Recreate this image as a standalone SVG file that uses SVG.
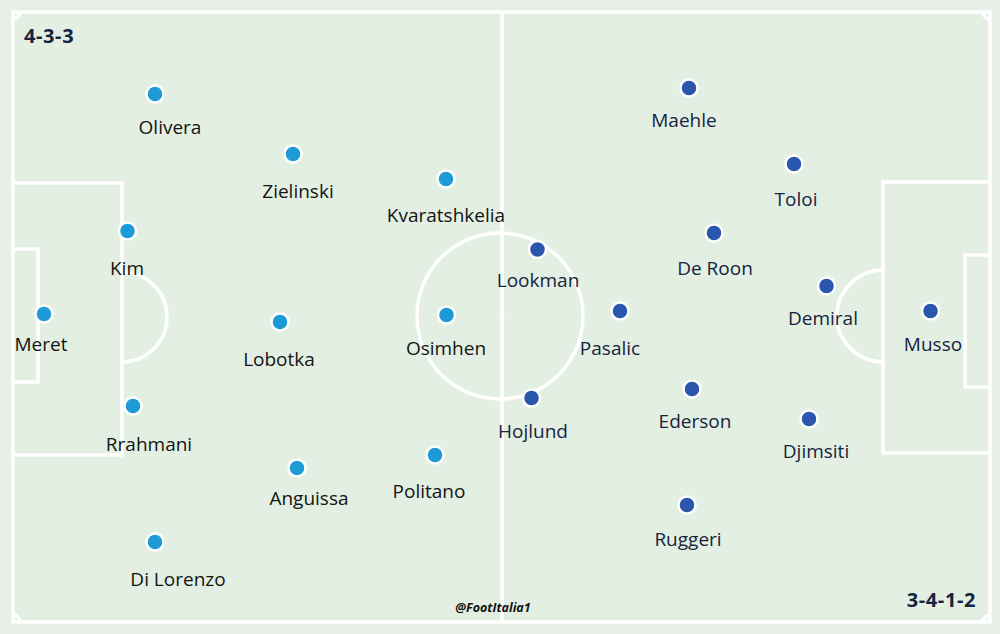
<svg xmlns="http://www.w3.org/2000/svg" width="1000" height="634" viewBox="0 0 1000 634">
<style>
.line{fill:none;stroke:#ffffff;stroke-width:3.5}
.nap circle{fill:#1d9bd7;stroke:#ffffff;stroke-width:2.5}
.ata circle{fill:#2a56ad;stroke:#ffffff;stroke-width:2.5}
.nap text{font-family:"Open Sans","Liberation Sans",sans-serif;font-size:19px;fill:#141414;text-anchor:middle}
.ata text{font-family:"Open Sans","Liberation Sans",sans-serif;font-size:19px;fill:#17233f;text-anchor:middle}
.form{font-family:"Open Sans","Liberation Sans",sans-serif;font-size:20px;font-weight:bold;fill:#17233f;letter-spacing:0.6px}
</style>
<rect x="0" y="0" width="1000" height="634" fill="#e7efe8"/>
<rect x="13" y="12" width="977" height="610" fill="#e2efe2"/>
<g id="pitch">
<rect class="line" x="13" y="12" width="977" height="610"/>
<line class="line" x1="502" y1="12" x2="502" y2="622" stroke-width="4"/>
<circle class="line" cx="500" cy="316" r="83"/>
<circle cx="502" cy="316" r="2.5" fill="#ffffff"/>
<polyline class="line" points="13,183 122,183 122,455 13,455"/>
<polyline class="line" points="13,249 38,249 38,382 13,382"/>
<path class="line" d="M122,272 A45,45 0 0 1 122,362"/>
<polyline class="line" points="990,182 883,182 883,453 990,453"/>
<polyline class="line" points="990,255 965,255 965,387 990,387"/>
<path class="line" d="M883,270 A46,46 0 0 0 883,362"/>
<path class="line" d="M13,19 A7,7 0 0 0 20,12"/>
<path class="line" d="M983,12 A7,7 0 0 0 990,19"/>
<path class="line" d="M13,615 A7,7 0 0 1 20,622"/>
<path class="line" d="M990,615 A7,7 0 0 0 983,622"/>
</g>
<g id="connectors"></g>
<text class="form" x="24" y="43">4-3-3</text>
<text class="form" x="976" y="607" text-anchor="end">3-4-1-2</text>
<text x="493" y="612" text-anchor="middle" font-family="'Open Sans','Liberation Sans',sans-serif" font-size="12.5" font-weight="bold" font-style="italic" fill="#141414">@FootItalia1</text>
<g class="nap">
<g id="olivera"><circle cx="155" cy="94" r="8.5"/><text x="170" y="133.5">Olivera</text></g>
<g id="zielinski"><circle cx="293" cy="154" r="8.5"/><text x="298" y="197.5">Zielinski</text></g>
<g id="kvaratskhelia"><circle cx="446" cy="179" r="8.5"/><text x="446" y="221.5">Kvaratshkelia</text></g>
<g id="kim"><circle cx="127.5" cy="231" r="8.5"/><text x="127" y="275">Kim</text></g>
<g id="meret"><circle cx="44" cy="314" r="8.5"/><text x="41" y="351">Meret</text></g>
<g id="lobotka"><circle cx="280" cy="322" r="8.5"/><text x="279" y="365.5">Lobotka</text></g>
<g id="osimhen"><circle cx="446.5" cy="315" r="8.5"/><text x="446" y="355">Osimhen</text></g>
<g id="rrahmani"><circle cx="133" cy="406" r="8.5"/><text x="149" y="450.5">Rrahmani</text></g>
<g id="anguissa"><circle cx="297" cy="468" r="8.5"/><text x="309" y="505">Anguissa</text></g>
<g id="politano"><circle cx="435" cy="455" r="8.5"/><text x="429" y="498">Politano</text></g>
<g id="dilorenzo"><circle cx="155" cy="542" r="8.5"/><text x="178" y="586">Di Lorenzo</text></g>
</g>
<g class="ata">
<g id="maehle"><circle cx="689" cy="88" r="8.5"/><text x="684" y="126.5">Maehle</text></g>
<g id="toloi"><circle cx="794" cy="164" r="8.5"/><text x="796" y="205.5">Toloi</text></g>
<g id="deroon"><circle cx="714" cy="233" r="8.5"/><text x="715" y="274.5">De Roon</text></g>
<g id="lookman"><circle cx="537.5" cy="249.5" r="8.5"/><text x="538" y="286.5">Lookman</text></g>
<g id="demiral"><circle cx="826.5" cy="286" r="8.5"/><text x="823" y="324.5">Demiral</text></g>
<g id="musso"><circle cx="930.5" cy="311" r="8.5"/><text x="933" y="351">Musso</text></g>
<g id="pasalic"><circle cx="620" cy="311" r="8.5"/><text x="610" y="354.5">Pasalic</text></g>
<g id="ederson"><circle cx="692" cy="389" r="8.5"/><text x="695" y="427.5">Ederson</text></g>
<g id="hojlund"><circle cx="531.5" cy="398" r="8.5"/><text x="533" y="438">Hojlund</text></g>
<g id="djimsiti"><circle cx="809" cy="419" r="8.5"/><text x="816" y="457.5">Djimsiti</text></g>
<g id="ruggeri"><circle cx="687" cy="505" r="8.5"/><text x="688" y="546">Ruggeri</text></g>
</g>
</svg>
